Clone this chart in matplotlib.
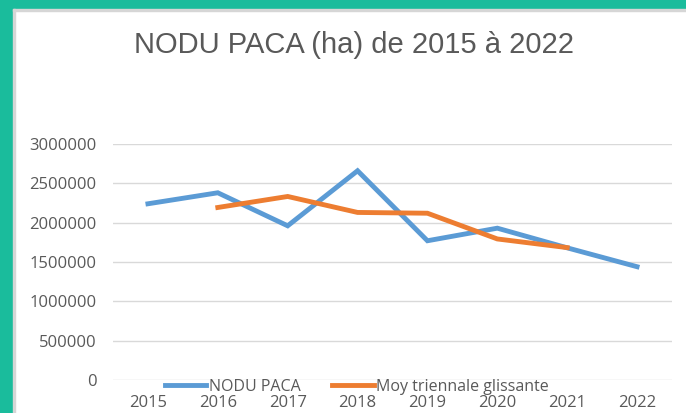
import matplotlib.pyplot as plt
from matplotlib.patches import Rectangle

# data
years = ['2015', '2016', '2017', '2018', '2019', '2020', '2021', '2022']
nodu = [2240000, 2380000, 1960000, 2660000, 1770000, 1930000, 1680000, 1440000]
moy_years = ['2016', '2017', '2018', '2019', '2020', '2021']
moy = [2193000, 2333000, 2130000, 2120000, 1793000, 1683000]
yticks = [0, 500000, 1000000, 1500000, 2000000, 2500000, 3000000]

blue = '#5B9BD5'
orange = '#ED7D31'
grey_txt = '#595959'
teal = '#1ABC9C'

fig = plt.figure(figsize=(6.86, 4.13), dpi=100)

# teal frame on top and left
fig.patches.append(Rectangle((0, 1 - 9 / 413), 1, 9 / 413, transform=fig.transFigure,
                             color=teal, zorder=0))
fig.patches.append(Rectangle((0, 0), 13 / 686, 1, transform=fig.transFigure,
                             color=teal, zorder=0))
fig.patches.append(Rectangle((13 / 686, 0), 2 / 686, 1 - 9 / 413, transform=fig.transFigure,
                             color='#D6D6D6', zorder=0))
fig.patches.append(Rectangle((13 / 686, 1 - 11 / 413), 1, 2 / 413, transform=fig.transFigure,
                             color='#D6D6D6', zorder=0))

ax = fig.add_axes([113 / 686, 1 - 380 / 413, (672 - 113) / 686, (380 - 144) / 413])

xpos = list(range(len(years)))
mpos = [years.index(y) for y in moy_years]
ax.plot(xpos, nodu, color=blue, lw=3.5, solid_joinstyle='miter', label='NODU PACA')
ax.plot(mpos, moy, color=orange, lw=3.5, solid_joinstyle='miter',
        label='Moy triennale glissante')

ax.set_xlim(-0.5, len(years) - 0.5)
ax.set_ylim(0, 3000000)
ax.set_yticks(yticks)
ax.set_yticklabels([str(v) for v in yticks])
ax.set_xticks(xpos)
ax.set_xticklabels(years)
ax.grid(axis='y', color='#D9D9D9', lw=1)
ax.set_axisbelow(True)
for s in ax.spines.values():
    s.set_visible(False)
ax.tick_params(axis='y', length=0, pad=12, labelsize=12, labelcolor=grey_txt)
ax.tick_params(axis='x', length=0, pad=11, labelsize=12, labelcolor=grey_txt)
for lab in ax.get_xticklabels() + ax.get_yticklabels():
    lab.set_fontfamily('Open Sans')

fig.text(354 / 686, 1 - 45 / 413, 'NODU PACA (ha) de 2015 à 2022', ha='center', va='center',
         fontsize=21, color=grey_txt, family='Liberation Sans')

fig.legend(loc='center', bbox_to_anchor=(357 / 686, 1 - 387 / 413), ncol=2, frameon=False,
           handlelength=2.6, handletextpad=0.15, columnspacing=2.0,
           prop={'family': 'Open Sans', 'size': 11.5}, labelcolor=grey_txt)

fig.savefig('out.png', dpi=100)
